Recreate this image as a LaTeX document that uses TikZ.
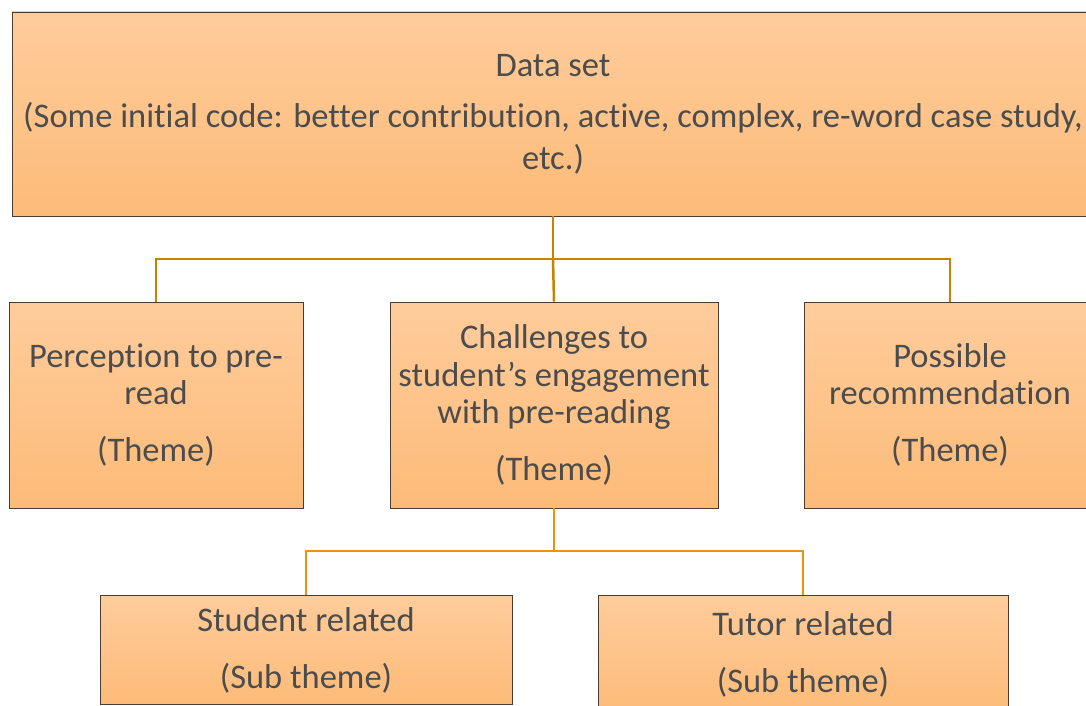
\documentclass[tikz,border=0pt]{standalone}
\usepackage{fontspec}
\setmainfont[Ligatures=NoCommon]{Carlito}
\definecolor{boxline}{HTML}{4A3C2E}
\definecolor{boxtop}{HTML}{FECC9C}
\definecolor{boxbot}{HTML}{FDBB78}
\definecolor{txt}{HTML}{4C4C4C}
\definecolor{linkA}{HTML}{C98100}
\definecolor{linkB}{HTML}{E8940C}
\tikzset{
  box/.style={rectangle, draw=boxline, line width=0.9pt, top color=boxtop, bottom color=boxbot,
    inner sep=0pt, anchor=center, align=center, text=txt, font=\fontsize{34.5}{37.5}\selectfont},
  linkTop/.style={draw=linkA, line width=2.5pt},
  linkBot/.style={draw=linkB, line width=2.5pt},
}
\begin{document}
\begin{tikzpicture}[x=1pt,y=-1pt]
\useasboundingbox (0,0) rectangle (1086,706);
\clip (0,0) rectangle (1086,706);
% top
\node[box, font=\fontsize{34.5}{42}\selectfont, minimum width=1082pt, minimum height=204pt] (data) at (553,114)
  {Data set\\[9pt](Some initial code: better contribution, active, complex, re-word case study,\\etc.)};
% themes
\node[box, minimum width=294pt, minimum height=206pt] (perc) at (156,405)
  {Perception to pre-\\read\\[19.5pt](Theme)};
\node[box, minimum width=328pt, minimum height=206pt] (chal) at (554,405)
  {Challenges to\\student’s engagement\\with pre-reading\\[19.5pt](Theme)};
\node[box, minimum width=292pt, minimum height=206pt] (poss) at (950,405)
  {Possible\\recommendation\\[19.5pt](Theme)};
% sub themes
\node[box, minimum width=412pt, minimum height=109pt] (stud) at (306,650)
  {Student related\\[19.5pt](Sub theme)};
\node[box, minimum width=410pt, minimum height=118pt] (tut) at (803,654.5)
  {Tutor related\\[19.5pt](Sub theme)};
% connectors
\coordinate (j1) at (553,259);
\coordinate (j2) at (554,551);
\draw[linkTop] (data.south) -- (j1);
\draw[linkTop] (perc.north) |- (j1) -| (poss.north);
\draw[linkTop] (j1) -- (chal.north);
\draw[linkBot] (chal.south) -- (j2);
\draw[linkBot] (stud.north) |- (j2) -| (tut.north);
\end{tikzpicture}
\end{document}
